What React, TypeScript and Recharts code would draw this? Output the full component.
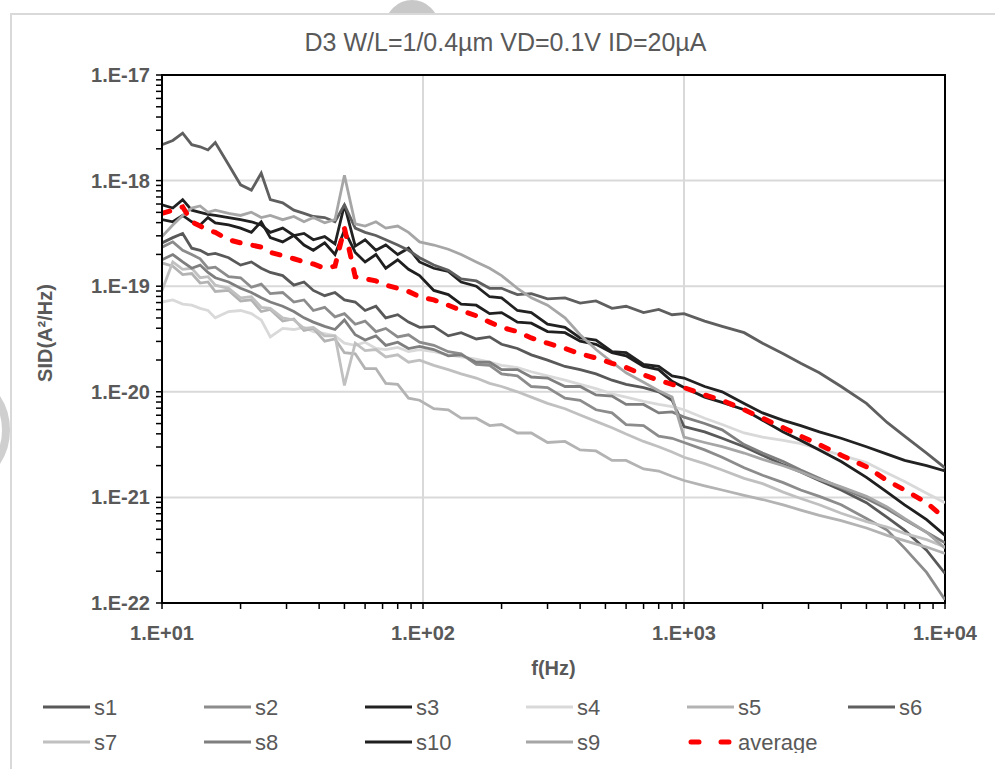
import React from 'react';
import { LineChart, Line, XAxis, YAxis, CartesianGrid, Legend, ReferenceArea, Label } from 'recharts';

// frequency points (Hz)
const freqHz = [10, 11, 12, 13, 14, 15, 16, 18, 20, 22, 24, 26, 29, 32, 35, 38, 42, 46, 50, 55, 60, 66, 72, 80, 88, 97, 110, 125, 140, 160, 180, 200, 230, 260, 300, 350, 400, 460, 530, 600, 700, 800, 900, 1000, 1200, 1400, 1700, 2000, 2400, 2800, 3300, 4000, 5000, 6000, 7000, 8500, 10000];

// log10(SID)
const s1Log = [-18.59, -18.54, -18.50, -18.64, -18.66, -18.70, -18.69, -18.73, -18.80, -18.77, -18.83, -18.87, -18.90, -18.99, -18.96, -19.04, -19.09, -19.06, -19.13, -19.15, -19.23, -19.19, -19.30, -19.27, -19.34, -19.39, -19.38, -19.47, -19.44, -19.50, -19.48, -19.55, -19.59, -19.65, -19.70, -19.76, -19.79, -19.83, -19.89, -19.93, -19.96, -20.00, -20.08, -20.33, -20.38, -20.44, -20.52, -20.60, -20.69, -20.76, -20.84, -20.93, -21.05, -21.19, -21.31, -21.50, -21.72];
const s2Log = [-18.63, -18.58, -18.66, -18.70, -18.74, -18.83, -18.82, -18.91, -18.92, -19.01, -18.98, -19.07, -19.06, -19.15, -19.13, -19.23, -19.20, -19.29, -19.26, -19.36, -19.33, -19.43, -19.40, -19.48, -19.46, -19.53, -19.56, -19.62, -19.64, -19.74, -19.75, -19.83, -19.85, -19.95, -19.96, -20.06, -20.08, -20.17, -20.20, -20.31, -20.32, -20.42, -20.44, -20.48, -20.55, -20.62, -20.72, -20.79, -20.86, -20.93, -20.99, -21.07, -21.20, -21.31, -21.48, -21.71, -21.97];
const s3Log = [-18.23, -18.26, -18.18, -18.28, -18.30, -18.32, -18.33, -18.35, -18.37, -18.39, -18.42, -18.49, -18.45, -18.52, -18.50, -18.56, -18.53, -18.60, -18.23, -18.62, -18.56, -18.66, -18.61, -18.70, -18.64, -18.77, -18.83, -18.86, -18.96, -19.00, -19.10, -19.11, -19.23, -19.25, -19.36, -19.39, -19.49, -19.51, -19.62, -19.63, -19.74, -19.76, -19.85, -19.87, -19.95, -20.00, -20.11, -20.20, -20.27, -20.32, -20.38, -20.44, -20.52, -20.59, -20.65, -20.70, -20.75];
const s4Log = [-19.15, -19.13, -19.17, -19.18, -19.21, -19.23, -19.30, -19.24, -19.23, -19.26, -19.32, -19.48, -19.40, -19.41, -19.39, -19.43, -19.45, -19.47, -19.54, -19.56, -19.53, -19.59, -19.60, -19.58, -19.62, -19.60, -19.62, -19.65, -19.67, -19.69, -19.72, -19.75, -19.77, -19.81, -19.85, -19.89, -19.93, -19.97, -20.02, -20.05, -20.09, -20.12, -20.14, -20.17, -20.25, -20.31, -20.39, -20.43, -20.46, -20.49, -20.54, -20.60, -20.67, -20.77, -20.85, -20.96, -21.05];
const s5Log = [-18.78, -18.81, -18.89, -18.88, -18.97, -18.96, -19.05, -19.04, -19.14, -19.13, -19.24, -19.22, -19.33, -19.31, -19.42, -19.40, -19.52, -19.50, -19.63, -19.64, -19.78, -19.78, -19.92, -19.93, -20.06, -20.08, -20.16, -20.17, -20.25, -20.25, -20.32, -20.31, -20.39, -20.39, -20.48, -20.47, -20.55, -20.56, -20.65, -20.65, -20.73, -20.75, -20.80, -20.84, -20.89, -20.93, -20.98, -21.02, -21.07, -21.12, -21.17, -21.22, -21.29, -21.36, -21.41, -21.47, -21.53];
const s6Log = [-17.66, -17.62, -17.55, -17.66, -17.68, -17.71, -17.64, -17.85, -18.04, -18.09, -17.93, -18.18, -18.21, -18.28, -18.31, -18.34, -18.35, -18.39, -18.23, -18.45, -18.49, -18.52, -18.56, -18.61, -18.66, -18.73, -18.80, -18.85, -18.93, -18.95, -19.02, -19.02, -19.08, -19.07, -19.12, -19.11, -19.16, -19.14, -19.21, -19.19, -19.25, -19.22, -19.27, -19.26, -19.33, -19.38, -19.44, -19.54, -19.64, -19.73, -19.82, -19.95, -20.11, -20.29, -20.42, -20.58, -20.72];
const s7Log = [-19.04, -18.77, -18.84, -18.83, -18.92, -18.91, -18.99, -19.02, -19.11, -19.10, -19.20, -19.21, -19.30, -19.32, -19.40, -19.39, -19.47, -19.47, -19.94, -19.54, -19.61, -19.60, -19.67, -19.65, -19.72, -19.70, -19.75, -19.79, -19.83, -19.87, -19.92, -19.95, -20.00, -20.05, -20.11, -20.16, -20.22, -20.28, -20.34, -20.40, -20.47, -20.52, -20.57, -20.62, -20.68, -20.74, -20.82, -20.87, -20.95, -21.01, -21.07, -21.15, -21.23, -21.28, -21.34, -21.40, -21.47];
const s8Log = [-18.75, -18.70, -18.77, -18.83, -18.80, -18.87, -18.92, -18.96, -19.02, -19.06, -19.11, -19.15, -19.19, -19.24, -19.30, -19.34, -19.38, -19.41, -19.32, -19.46, -19.51, -19.47, -19.56, -19.53, -19.59, -19.57, -19.60, -19.66, -19.65, -19.72, -19.72, -19.79, -19.79, -19.86, -19.87, -19.95, -19.95, -20.03, -20.04, -20.12, -20.12, -20.20, -20.19, -20.24, -20.30, -20.36, -20.50, -20.58, -20.66, -20.74, -20.82, -20.91, -21.01, -21.11, -21.21, -21.33, -21.43];
const s10Log = [-18.37, -18.39, -18.33, -18.39, -18.42, -18.35, -18.40, -18.42, -18.45, -18.49, -18.39, -18.54, -18.58, -18.52, -18.61, -18.66, -18.59, -18.70, -18.47, -18.68, -18.77, -18.70, -18.83, -18.75, -18.84, -18.90, -19.04, -19.08, -19.17, -19.18, -19.26, -19.25, -19.34, -19.35, -19.43, -19.44, -19.52, -19.55, -19.63, -19.66, -19.76, -19.79, -19.90, -19.96, -20.05, -20.10, -20.17, -20.27, -20.38, -20.46, -20.55, -20.66, -20.81, -20.95, -21.07, -21.21, -21.36];
const s9Log = [-18.53, -18.42, -18.33, -18.26, -18.24, -18.30, -18.28, -18.31, -18.33, -18.30, -18.35, -18.33, -18.37, -18.34, -18.39, -18.35, -18.40, -18.37, -17.95, -18.41, -18.43, -18.39, -18.45, -18.43, -18.49, -18.58, -18.61, -18.65, -18.70, -18.77, -18.83, -18.90, -19.02, -19.11, -19.18, -19.30, -19.46, -19.60, -19.72, -19.82, -19.91, -19.99, -20.05, -20.43, -20.48, -20.52, -20.58, -20.64, -20.70, -20.76, -20.83, -20.90, -20.99, -21.09, -21.20, -21.33, -21.48];
const averageLog = [-18.31, -18.28, -18.25, -18.39, -18.43, -18.47, -18.49, -18.56, -18.59, -18.61, -18.63, -18.68, -18.71, -18.74, -18.77, -18.79, -18.83, -18.81, -18.45, -18.91, -18.93, -18.95, -18.99, -19.02, -19.05, -19.10, -19.13, -19.18, -19.23, -19.28, -19.34, -19.39, -19.43, -19.49, -19.54, -19.59, -19.64, -19.68, -19.73, -19.77, -19.84, -19.89, -19.93, -19.96, -20.03, -20.08, -20.17, -20.25, -20.34, -20.42, -20.50, -20.60, -20.71, -20.84, -20.93, -21.05, -21.20];

const seriesNames = ['s1', 's2', 's3', 's4', 's5', 's6', 's7', 's8', 's10', 's9', 'average'];
const seriesLogs = [s1Log, s2Log, s3Log, s4Log, s5Log, s6Log, s7Log, s8Log, s10Log, s9Log, averageLog];
const seriesColors = ['#595959', '#8c8c8c', '#222222', '#d9d9d9', '#b3b3b3', '#5f5f5f', '#c0c0c0', '#7f7f7f', '#1f1f1f', '#a6a6a6', '#ff0000'];

// axis ticks
const xDecadeExps = [1, 2, 3, 4];
const yDecadeExps = [-22, -21, -20, -19, -18, -17];
const minorMultipliers = [1, 2, 3, 4, 5, 6, 7, 8, 9];

const buildTicks = (exps: number[]) => {
  const out: number[] = [];
  exps.forEach((e, i) => {
    if (i === exps.length - 1) {
      out.push(Math.pow(10, e));
    } else {
      minorMultipliers.forEach((m) => out.push(m * Math.pow(10, e)));
    }
  });
  return out;
};
const xTicks = buildTicks(xDecadeExps);
const yTicks = buildTicks(yDecadeExps);

const rows = freqHz.map((f, i) => {
  const r: any = { f };
  seriesNames.forEach((n, k) => {
    const v = seriesLogs[k][i];
    r[n] = v === undefined ? null : Math.pow(10, v);
  });
  return r;
});

const FONT = "'Liberation Sans', Arial, sans-serif";
const TXT = '#595959';

const decadeExp = (v: number) => {
  const e = Math.log10(v);
  const r = Math.round(e);
  return Math.abs(e - r) < 1e-6 ? r : null;
};

const XTick = (props: any) => {
  const { x, y, payload } = props;
  const e = decadeExp(payload.value);
  if (e === null) return <g />;
  const label = '1.E+' + (e < 10 ? '0' + e : String(e));
  return (
    <text x={x} y={y + 22} textAnchor="middle" dominantBaseline="central" fill={TXT} fontFamily={FONT} fontWeight="bold" fontSize={20}>
      {label}
    </text>
  );
};

const YTick = (props: any) => {
  const { x, y, payload } = props;
  const e = decadeExp(payload.value);
  if (e === null) return <g />;
  const label = '1.E' + (e < 0 ? '-' : '+') + Math.abs(e);
  return (
    <text x={x - 4} y={y} textAnchor="end" dominantBaseline="central" fill={TXT} fontFamily={FONT} fontWeight="bold" fontSize={20}>
      {label}
    </text>
  );
};

const LegendGrid = () => (
  <svg width={995} height={90} style={{ display: 'block' }}>
    {seriesNames.map((n, i) => {
      const col = i % 6;
      const row = Math.floor(i / 6);
      const x0 = 43 + col * 161;
      const yc = 44 + row * 35;
      const isAvg = n === 'average';
      return (
        <g key={n}>
          <line
            x1={isAvg ? x0 + 4 : x0}
            x2={x0 + 47}
            y1={yc}
            y2={yc}
            stroke={seriesColors[i]}
            strokeWidth={isAvg ? 5 : 3}
            strokeDasharray={isAvg ? '8 22' : undefined}
            strokeLinecap={isAvg ? 'round' : 'butt'}
          />
          <text x={x0 + 51} y={yc} dominantBaseline="central" fill={TXT} fontFamily={FONT} fontSize={22}>
            {n}
          </text>
        </g>
      );
    })}
  </svg>
);

const YLabel = (props: any) => {
  const vb = props.viewBox || { x: 0, y: 75, width: 162, height: 528 };
  const cx = vb.x + 45;
  const cy = vb.y + vb.height / 2 - 6;
  return (
    <text x={cx} y={cy} transform={`rotate(-90 ${cx} ${cy})`} textAnchor="middle" dominantBaseline="central" fill={TXT} fontFamily={FONT} fontWeight="bold" fontSize={20}>
      SID(A²/Hz)
    </text>
  );
};

export default function App() {
  return (
    <div style={{ position: 'absolute', left: 0, top: 0, width: 995, height: 769, background: '#fff', overflow: 'hidden' }}>
      <div style={{ position: 'absolute', left: 10, top: 13, width: 1000, height: 800, border: '2px solid #d9d9d9', boxSizing: 'border-box' }} />
      <div style={{ position: 'absolute', left: 382, top: 0, width: 60, height: 13, overflow: 'hidden' }}>
        <div style={{ position: 'absolute', left: 3, top: 0, width: 54, height: 54, borderRadius: '50%', background: '#c8c8c8' }} />
      </div>
      <div style={{ position: 'absolute', left: 0, top: 370, width: 10, height: 120, overflow: 'hidden' }}>
        <div style={{ position: 'absolute', left: -114, top: -2, width: 124, height: 124, borderRadius: '50%', border: '8px solid #cfcfcf', boxSizing: 'border-box' }} />
      </div>
      <div style={{ position: 'absolute', left: 8, top: 27, width: 995, height: 30, lineHeight: '30px', textAlign: 'center', fontFamily: FONT, fontSize: 25, color: TXT }}>
        D3 W/L=1/0.4µm VD=0.1V ID=20µA
      </div>
      <div style={{ position: 'absolute', left: 0, top: 0 }}>
        <LineChart width={995} height={769} data={rows} margin={{ top: 75, right: 50, bottom: 16, left: 0 }}>
          <CartesianGrid stroke="#d9d9d9" strokeWidth={2} horizontalValues={[1e-21, 1e-20, 1e-19, 1e-18]} verticalValues={[100, 1000]} />
          <XAxis
            dataKey="f"
            type="number"
            scale="log"
            domain={[10, 10000]}
            allowDataOverflow
            ticks={xTicks}
            interval={0}
            tick={<XTick />}
            tickSize={6}
            tickLine={{ stroke: '#000', strokeWidth: 1.5 }}
            axisLine={{ stroke: '#000', strokeWidth: 2 }}
            height={60}
          >
            <Label value="f(Hz)" position="insideBottom" offset={-12} fill={TXT} fontFamily={FONT} fontWeight="bold" fontSize={20} />
          </XAxis>
          <YAxis
            type="number"
            scale="log"
            domain={[1e-22, 1e-17]}
            allowDataOverflow
            ticks={yTicks}
            interval={0}
            tick={<YTick />}
            tickSize={6}
            tickLine={{ stroke: '#000', strokeWidth: 1.5 }}
            axisLine={{ stroke: '#000', strokeWidth: 2 }}
            width={162}
          >
            <Label content={<YLabel />} />
          </YAxis>
          <ReferenceArea x1={10} x2={10000} y1={1e-22} y2={1e-17} fill="none" stroke="#000" strokeWidth={2} ifOverflow="visible" />
          {seriesNames.map((n, i) => (
            <Line
              key={n}
              dataKey={n}
              type="linear"
              stroke={seriesColors[i]}
              strokeWidth={n === 'average' ? 5 : 2.8}
              strokeDasharray={n === 'average' ? '8 13' : undefined}
              strokeLinecap={n === 'average' ? 'round' : 'butt'}
              dot={false}
              activeDot={false}
              isAnimationActive={false}
            />
          ))}
          <Legend verticalAlign="bottom" height={90} content={<LegendGrid />} wrapperStyle={{ left: 0, width: 995 }} />
        </LineChart>
      </div>
    </div>
  );
}
